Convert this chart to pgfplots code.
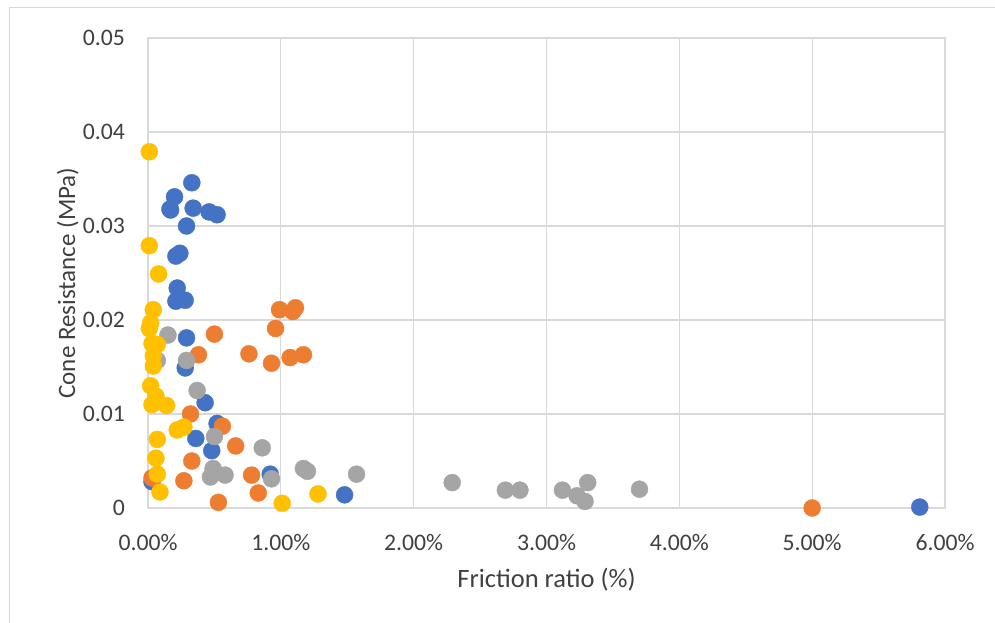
\documentclass[border=0pt]{standalone}
\usepackage{pgfplots}
\pgfplotsset{compat=1.18}
\usepackage{fontspec}
\setmainfont{Carlito}
\definecolor{cblue}{HTML}{4472C4}
\definecolor{corange}{HTML}{ED7D31}
\definecolor{cgray}{HTML}{A5A5A5}
\definecolor{cyellow}{HTML}{FFC000}
\definecolor{gridc}{HTML}{D9D9D9}
\begin{document}
\begin{tikzpicture}
\useasboundingbox (0,0) rectangle (995pt,623pt);
\draw[gridc, line width=1pt] (9.5pt,0) -- (9.5pt,615pt) -- (995pt,615pt);
\begin{axis}[
  at={(148pt,115pt)}, anchor=south west,
  scale only axis, width=797pt, height=470pt,
  xmin=0, xmax=6, ymin=0, ymax=0.05,
  xtick={0,1,2,3,4,5,6},
  xticklabels={0.00\%,1.00\%,2.00\%,3.00\%,4.00\%,5.00\%,6.00\%},
  ytick={0,0.01,0.02,0.03,0.04,0.05},
  yticklabels={0,0.01,0.02,0.03,0.04,0.05},
  scaled y ticks=false,
  major tick length=0pt,
  grid=major,
  major grid style={gridc, line width=1.3pt},
  axis line style={gridc, line width=1.3pt},
  axis on top=false,
  clip=false,
  tick label style={font=\fontsize{23.7}{28}\selectfont, color=black!75, inner sep=0pt},
  xticklabel style={anchor=base, yshift=-42pt},
  yticklabel style={anchor=base east, xshift=-23pt, yshift=-7.5pt},
  xlabel={Friction ratio (\%)},
  ylabel={Cone Resistance (MPa)},
  label style={color=black!75, inner sep=0pt},
  xlabel style={font=\fontsize{26.5}{30}\selectfont, at={(axis description cs:0.5,0)}, anchor=base, yshift=-79pt},
  ylabel style={font=\fontsize{25}{30}\selectfont, at={(axis description cs:0,0.5)}, anchor=base, rotate=0, yshift=73pt, xshift=-10pt},
  every axis plot/.append style={only marks, mark=*, mark size=8.5pt},
]
% blue
\addplot[mark options={draw=cblue, fill=cblue}] coordinates {
(0.33,0.0346) (0.20,0.0331) (0.17,0.0317) (0.165,0.0318) (0.34,0.0319) (0.46,0.0315) (0.52,0.0312)
(0.29,0.0300) (0.21,0.0268) (0.24,0.0271) (0.22,0.0234) (0.21,0.0220) (0.28,0.0221)
(0.29,0.0181) (0.28,0.0149) (0.43,0.0112) (0.52,0.0090) (0.36,0.0074) (0.48,0.0061)
(0.92,0.0036) (0.03,0.0028) (1.48,0.0014) (5.81,0.0001)
};
% orange
\addplot[mark options={draw=corange, fill=corange}] coordinates {
(0.99,0.0211) (1.09,0.0209) (1.11,0.0213) (0.96,0.0191) (0.50,0.0185) (0.76,0.0164)
(0.38,0.0163) (0.93,0.0154) (1.07,0.0160) (1.17,0.0163) (0.32,0.0100) (0.56,0.0087)
(0.66,0.0066) (0.33,0.0050) (0.78,0.0035) (0.27,0.0029) (0.83,0.0016) (0.53,0.0006)
(0.03,0.0032) (5.00,0.0000)
};
% gray
\addplot[mark options={draw=cgray, fill=cgray}] coordinates {
(0.15,0.0184) (0.29,0.0157) (0.07,0.0157) (0.37,0.0125) (0.86,0.0064) (0.50,0.0076)
(0.49,0.0042) (0.47,0.0033) (0.58,0.0035) (0.93,0.0031) (1.17,0.0042) (1.20,0.0039)
(1.57,0.0036) (2.29,0.0027) (2.69,0.0019) (2.80,0.0019) (3.12,0.0019) (3.23,0.0013)
(3.31,0.0027) (3.29,0.0007) (3.70,0.0020)
};
% yellow
\addplot[mark options={draw=cyellow, fill=cyellow}] coordinates {
(0.01,0.0379) (0.01,0.0279) (0.08,0.0249) (0.04,0.0211) (0.02,0.0197) (0.01,0.0191)
(0.03,0.0175) (0.07,0.0174) (0.04,0.0162) (0.04,0.0151) (0.02,0.0130) (0.06,0.0119)
(0.03,0.0110) (0.14,0.0109) (0.22,0.0083) (0.27,0.0086) (0.07,0.0073) (0.06,0.0053)
(0.07,0.0036) (0.09,0.0017) (1.01,0.0005) (1.28,0.0015)
};
\end{axis}
\end{tikzpicture}
\end{document}
